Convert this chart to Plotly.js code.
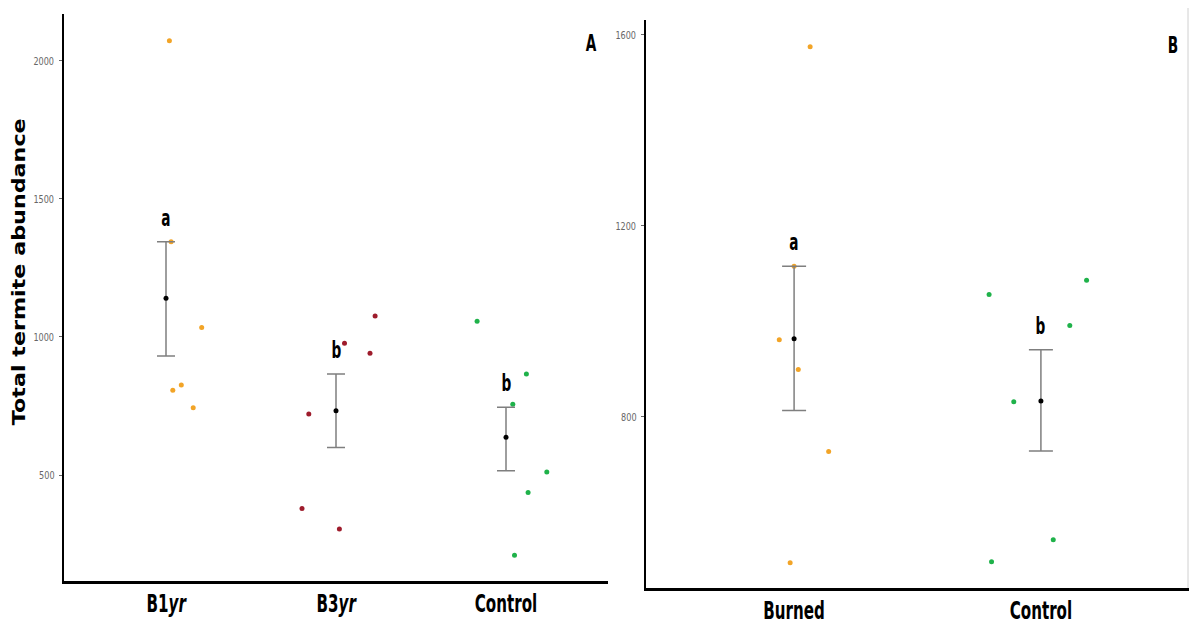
<!DOCTYPE html>
<html>
<head>
<meta charset="utf-8">
<script src="https://cdn.plot.ly/plotly-3.0.1.min.js"></script>
<style>
  html, body { margin: 0; padding: 0; background: #fff; }
  #chart { width: 1189px; height: 630px; }
</style>
</head>
<body>
<div id="chart"></div>
<script>
// ---------- Panel A data ----------
const catsA = ['B1yr', 'B3yr', 'Control'];
const tickTextA = ['B1<i>yr</i>', 'B3<i>yr</i>', 'Control'];
const b1yrVals = [2073, 1345, 1034, 807, 826, 744];
const b1yrJitter = [0.02, 0.03, 0.21, 0.04, 0.09, 0.16];
const b3yrVals = [1076, 977, 941, 721, 379, 304];
const b3yrJitter = [0.23, 0.05, 0.20, -0.16, -0.20, 0.02];
const controlAVals = [1057, 866, 756, 511, 437, 209];
const controlAJitter = [-0.17, 0.12, 0.04, 0.24, 0.13, 0.05];
const meansA = [1140, 733, 637];
const errUpA = [205, 133, 108];
const errDownA = [209, 133, 122];
const lettersA = ['a', 'b', 'b'];

// ---------- Panel B data ----------
const catsB = ['Burned', 'Control'];
const tickTextB = ['Burned', 'Control'];
const burnedVals = [1575, 1115, 961, 899, 727, 494];
const burnedJitter = [0.065, 0.0, -0.06, 0.017, 0.14, -0.016];
const controlBVals = [1086, 1056, 991, 831, 542, 496];
const controlBJitter = [0.185, -0.21, 0.117, -0.11, 0.05, -0.20];
const meansB = [963, 833];
const errUpB = [152, 107];
const errDownB = [150, 105];
const lettersB = ['a', 'b'];

const yTitle = 'Total termite abundance';

// ---------- styles ----------
const COL_ORANGE = '#f2a427';
const COL_RED = '#9e1c2c';
const COL_GREEN = '#1fb24a';
const COND = '"DejaVu Sans Condensed", "DejaVu Sans", sans-serif';

function jit(idx, vals, offs) { return vals.map((v, i) => idx + offs[i]); }

function pts(idx, vals, offs, color, xa, ya) {
  return {
    type: 'scatter', mode: 'markers',
    x: jit(idx, vals, offs), y: vals,
    xaxis: xa, yaxis: ya,
    marker: { color: color, size: 5 },
    hoverinfo: 'y', showlegend: false
  };
}

function meanTrace(means, up, down, xa, ya, capw) {
  return {
    type: 'scatter', mode: 'markers',
    x: means.map((m, i) => i), y: means,
    xaxis: xa, yaxis: ya,
    marker: { color: '#000', size: 5 },
    error_y: { type: 'data', symmetric: false, array: up, arrayminus: down,
               color: '#7f7f7f', thickness: 1.5, width: capw },
    showlegend: false
  };
}

const traces = [
  pts(0, b1yrVals, b1yrJitter, COL_ORANGE, 'x', 'y'),
  pts(1, b3yrVals, b3yrJitter, COL_RED, 'x', 'y'),
  pts(2, controlAVals, controlAJitter, COL_GREEN, 'x', 'y'),
  meanTrace(meansA, errUpA, errDownA, 'x', 'y', 9),
  pts(0, burnedVals, burnedJitter, COL_ORANGE, 'x2', 'y2'),
  pts(1, controlBVals, controlBJitter, COL_GREEN, 'x2', 'y2'),
  meanTrace(meansB, errUpB, errDownB, 'x2', 'y2', 12)
];

const letterFont = { family: COND, size: 23, color: '#000' };

const annotations = [];
lettersA.forEach((t, i) => annotations.push({
  xref: 'x', yref: 'y', x: i, y: meansA[i] + errUpA[i], text: '<b>' + t + '</b>',
  showarrow: false, yanchor: 'middle', yshift: 24, font: letterFont
}));
lettersB.forEach((t, i) => annotations.push({
  xref: 'x2', yref: 'y2', x: i, y: meansB[i] + errUpB[i], text: '<b>' + t + '</b>',
  showarrow: false, yanchor: 'middle', yshift: 24, font: letterFont
}));
annotations.push({ xref: 'paper', yref: 'paper', x: 591 / 1189, y: 1 - 43 / 630,
  text: '<b>A</b>', showarrow: false, xanchor: 'center', yanchor: 'middle',
  font: { family: COND, size: 23, color: '#000' } });
annotations.push({ xref: 'paper', yref: 'paper', x: 1173 / 1189, y: 1 - 45 / 630,
  text: '<b>B</b>', showarrow: false, xanchor: 'center', yanchor: 'middle',
  font: { family: COND, size: 23, color: '#000' } });
annotations.push({ xref: 'paper', yref: 'paper', x: 18 / 1189, y: 1 - 272 / 630,
  text: '<b>' + yTitle + '</b>', showarrow: false, textangle: -90,
  xanchor: 'center', yanchor: 'middle',
  font: { family: '"DejaVu Sans", Verdana, sans-serif', size: 18, color: '#000' } });

const yTickCommon = {
  showgrid: false, zeroline: false, showline: true, linecolor: '#000', linewidth: 2.5,
  ticks: 'outside', ticklen: 3, tickcolor: '#666', tickwidth: 1,
  tickfont: { family: COND, size: 11, color: '#666' }
};
const xCommon = {
  showgrid: false, zeroline: false, showline: true, linecolor: '#000', linewidth: 2.5,
  ticks: '', tickmode: 'array',
  tickfont: { family: COND, size: 24, color: '#000' }
};

const layout = {
  width: 1189, height: 630,
  margin: { l: 0, r: 0, t: 0, b: 0 },
  paper_bgcolor: '#fff', plot_bgcolor: '#fff',
  showlegend: false,
  xaxis: Object.assign({}, xCommon, {
    domain: [64 / 1189, 608 / 1189], range: [-0.6, 2.6],
    tickvals: catsA.map((c, i) => i), ticktext: tickTextA.map(t => '<b>' + t + '</b>'),
    anchor: 'y'
  }),
  yaxis: Object.assign({}, yTickCommon, {
    domain: [1 - 581 / 630, 1 - 14 / 630], range: [116, 2170],
    tickvals: [500, 1000, 1500, 2000], anchor: 'x'
  }),
  xaxis2: Object.assign({}, xCommon, {
    domain: [646 / 1189, 1], range: [-0.6, 1.6],
    tickvals: catsB.map((c, i) => i), ticktext: tickTextB.map(t => '<b>' + t + '</b>'),
    anchor: 'y2'
  }),
  yaxis2: Object.assign({}, yTickCommon, {
    domain: [1 - 588 / 630, 1 - 20 / 630], range: [441, 1631],
    tickvals: [800, 1200, 1600], anchor: 'x2'
  }),
  annotations: annotations,
  shapes: [{ type: 'line', xref: 'paper', yref: 'paper', x0: 1188 / 1189, x1: 1188 / 1189,
    y0: 1 - 588 / 630, y1: 1 - 8 / 630, line: { color: '#d0d0d0', width: 1 } }]
};

// squeeze / stretch a text element along its writing direction (about its own centre)
// to mimic the narrow, tall lettering of the original figure
function scaleText(el, sx) {
  const bb = el.getBBox();
  if (!bb.width) return;
  const cx = bb.x + bb.width / 2;
  const prev = el.getAttribute('transform') || '';
  el.setAttribute('transform',
    prev + ' translate(' + cx + ',0) scale(' + sx + ',1) translate(' + (-cx) + ',0)');
}

Plotly.newPlot('chart', traces, layout, { displayModeBar: false, staticPlot: true }).then(gd => {
  gd.querySelectorAll('.xtick text, .x2tick text').forEach(t => scaleText(t, 0.7));
  gd.querySelectorAll('.ytick text, .y2tick text').forEach(t => scaleText(t, 0.82));
  gd.querySelectorAll('.annotation-text').forEach(t => {
    if (t.textContent === yTitle) scaleText(t, 307 / t.getBBox().width);
    else scaleText(t, 0.66);
  });
});
</script>
</body>
</html>
